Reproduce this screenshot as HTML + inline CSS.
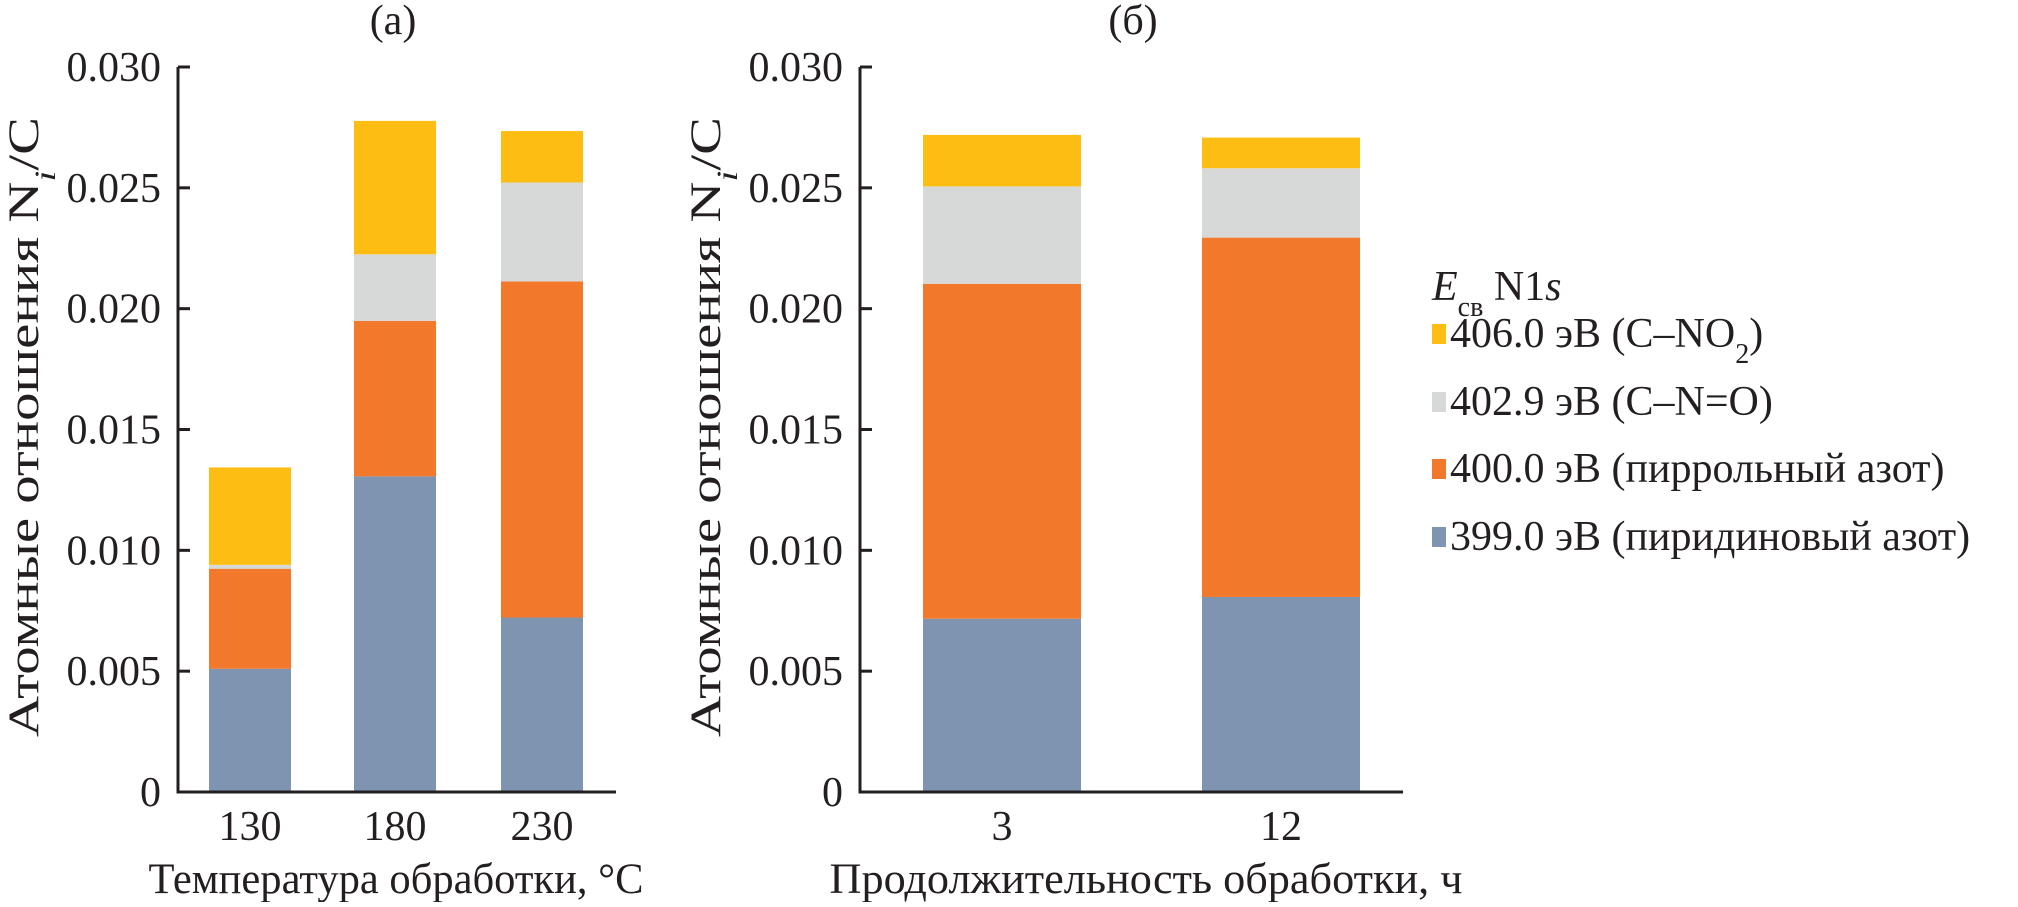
<!DOCTYPE html>
<html><head><meta charset="utf-8"><style>
body{margin:0;background:#fff}
svg text{font-family:"Liberation Serif","DejaVu Serif",serif;fill:#231f20}
</style></head><body>
<svg id="chart" width="2018" height="902" xmlns="http://www.w3.org/2000/svg"></svg>
<script>
const catsA = ["130","180","230"];
const catsB = ["3","12"];
const pyridinicA = [0.0051,0.01306,0.00722];
const pyrrolicA = [0.00924,0.01949,0.02113];
const cnoA = [0.0094,0.02225,0.02522];
const no2A = [0.01343,0.02777,0.02735];
const pyridinicB = [0.00717,0.00807];
const pyrrolicB = [0.02103,0.02294];
const cnoB = [0.02506,0.02581];
const no2B = [0.02719,0.02708];
const yTicks = [0,0.005,0.010,0.015,0.020,0.025,0.030];
const yTickLabels = ["0","0.005","0.010","0.015","0.020","0.025","0.030"];
const legendLabels = ["406.0 эВ (C\u2013NO<tspan baseline-shift='sub' font-size='28'>2</tspan>)","402.9 эВ (C\u2013N=O)","400.0 эВ (пиррольный азот)","399.0 эВ (пиридиновый азот)"];
const legendLens = [470,386,499,534];
const colors = ["#fdbd12","#d7d9d8","#f2782b","#7f94b0"];

const svg = document.getElementById('chart');
const NS = "http://www.w3.org/2000/svg";
function mk(tag, attrs, parent){const e=document.createElementNS(NS,tag);for(const k in attrs)e.setAttribute(k,attrs[k]);(parent||svg).appendChild(e);return e;}
const Y0=792, Y30=67;
function y(v){return Y0-(v/0.030)*(Y0-Y30);}

function panel(id, ax, axEnd, barX, barW, cats, stacks, title, titleX, xTitle, xTitleX, xTitleLen, yTitleX){
  const g = mk('g',{});
  
  
  const order=[3,2,1,0];
  cats.forEach((c,i)=>{
    let prev=0;
    stacks.forEach((arr,si)=>{
      const v=arr[i];
      const r=mk('rect',{x:barX[i],y:y(v),width:barW,height:y(prev)-y(v),fill:colors[order[si]]},g);
      
      
      prev=v;
    });
    const t=mk('text',{x:barX[i]+barW/2,y:840,'font-size':42,'text-anchor':'middle'},g);
    t.textContent=c;
    
    
  });
  const axis=mk('path',{d:`M${ax} ${Y30} V${Y0} H${axEnd}`,stroke:'#231f20','stroke-width':3,fill:'none'},g);
  
  
  yTicks.forEach((v,i)=>{
    if(i>0) mk('line',{x1:ax,x2:ax+12,y1:y(v),y2:y(v),stroke:'#231f20','stroke-width':3},g);
    const attrs={x:ax-17,y:y(v)+14,'font-size':42,'text-anchor':'end'};
    const t=mk('text',attrs,g);
    t.textContent=yTickLabels[i];
    
    
  });
  const tt=mk('text',{x:titleX,y:34,'font-size':42,'text-anchor':'middle'},g);tt.textContent=title;
  
  
  const xt=mk('text',{x:xTitleX,y:893,'font-size':43,'text-anchor':'middle',textLength:xTitleLen,lengthAdjust:'spacingAndGlyphs'},g);xt.textContent=xTitle;
  
  
  const yt=mk('text',{x:0,y:0,'font-size':43,'text-anchor':'middle',textLength:620,lengthAdjust:'spacingAndGlyphs',transform:`translate(${yTitleX},427) rotate(-90)`},g);
  yt.innerHTML="Атомные отношения N<tspan font-style='italic' baseline-shift='sub' font-size='30'>i</tspan>/C";
  
  
}
panel('panel-a',178,616,[209,354,501],82,catsA,[pyridinicA,pyrrolicA,cnoA,no2A],'(a)',393,'Температура обработки, °C',396,495,38);
panel('panel-b',860,1403,[923,1202],158,catsB,[pyridinicB,pyrrolicB,cnoB,no2B],'(б)',1133,'Продолжительность обработки, ч',1146,633,720);

const lg=mk('g',{});


const lt=mk('text',{x:1432,y:300,'font-size':42},lg);
lt.innerHTML="<tspan font-style='italic'>E</tspan><tspan baseline-shift='sub' font-size='28'>св</tspan> N1<tspan font-style='italic'>s</tspan>";


const ly=[332,400,467,535];
legendLabels.forEach((l,i)=>{
  const r=mk('rect',{x:1432,y:ly[i]-8,width:14,height:20,fill:colors[i]},lg);
  
  
  const t=mk('text',{x:1450,y:ly[i]+15,'font-size':42},lg);
  t.innerHTML=l;
  
  
});
</script>
</body></html>
